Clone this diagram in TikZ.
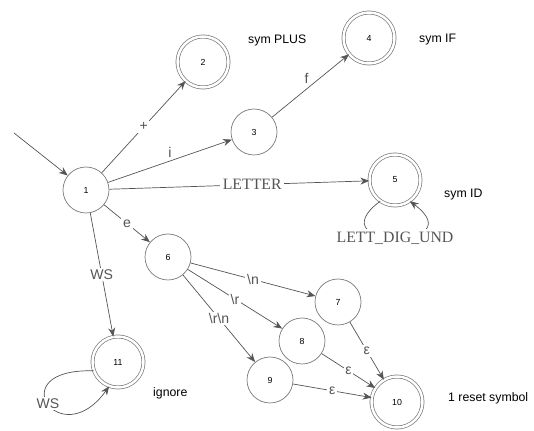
\documentclass[tikz,border=0pt]{standalone}
\usepackage{fontspec}
\setmainfont{Liberation Serif}
\setsansfont{Liberation Sans}
\usetikzlibrary{arrows.meta}
\definecolor{EdgeGray}{HTML}{555555}
\definecolor{RingGray}{HTML}{7A7A7A}

\begin{document}
\begin{tikzpicture}[x=0.02cm,y=-0.02cm,
    state/.style={circle,draw=RingGray,thin,minimum size=0.92cm,inner sep=0pt,
      font=\sffamily\tiny},
    accept/.style={state,double=white,double distance=1.4pt,minimum size=1.02cm},
    arr/.style={-{Stealth[length=5pt,width=4pt]},thin,EdgeGray},
    lbl/.style={fill=white,inner sep=1pt,font=\sffamily\footnotesize},
    outtxt/.style={anchor=west,font=\sffamily\scriptsize},
    big/.style={fill=white,inner sep=1.5pt,font=\small}]
    \useasboundingbox (0,0) rectangle (534,431);

    % states
    \node[state]  (s1)  at (86,190)  {1};
    \node[accept] (s2)  at (203,62)  {2};
    \node[state]  (s3)  at (254,132) {3};
    \node[accept] (s4)  at (369,38)  {4};
    \node[accept] (s5)  at (395,180) {5};
    \node[state]  (s6)  at (168,257) {6};
    \node[state]  (s7)  at (338,302) {7};
    \node[state]  (s8)  at (302,341) {8};
    \node[state]  (s9)  at (270,380) {9};
    \node[accept] (s10) at (397,402) {10};
    \node[accept] (s11) at (118,362) {11};

    % outputs
    \node[outtxt] (o2)  at (242,40)  {sym PLUS};
    \node[outtxt] (o4)  at (413,40)  {sym IF};
    \node[outtxt] (o5)  at (438,195) {sym ID};
    \node[outtxt] (o11) at (147,393) {ignore};
    \node[outtxt] (o10) at (442,398) {1 reset symbol};

    \coordinate (start) at (14,133);

    % transitions
    \draw[arr] (start) -- (s1);
    \draw[arr] (s1) -- node[lbl] {+} (s2);
    \draw[arr] (s1) -- node[lbl,above=1pt] {i} (s3);
    \draw[arr] (s3) -- node[lbl,above left=0pt] {f} (s4);
    \draw[arr] (s1) -- node[big,pos=0.55] {LETTER} (s5);
    \draw[arr] (s5.235) .. controls (315,250) and (475,250) .. node[big] {LETT\_DIG\_UND} (s5.305);
    \draw[arr] (s1) -- node[lbl] {e} (s6);
    \draw[arr] (s1) -- node[lbl] {WS} (s11);
    \draw[arr] (s11.200) .. controls (0,368) and (60,455) .. node[lbl] {WS} (s11.250);
    \draw[arr] (s6) -- node[lbl] {\textbackslash n} (s7);
    \draw[arr] (s6) -- node[lbl] {\textbackslash r} (s8);
    \draw[arr] (s6) -- node[lbl] {\textbackslash r\textbackslash n} (s9);
    \draw[arr] (s7) -- node[lbl] {ε} (s10);
    \draw[arr] (s8) -- node[lbl] {ε} (s10);
    \draw[arr] (s9) -- node[lbl] {ε} (s10);
  \end{tikzpicture}
\end{document}
